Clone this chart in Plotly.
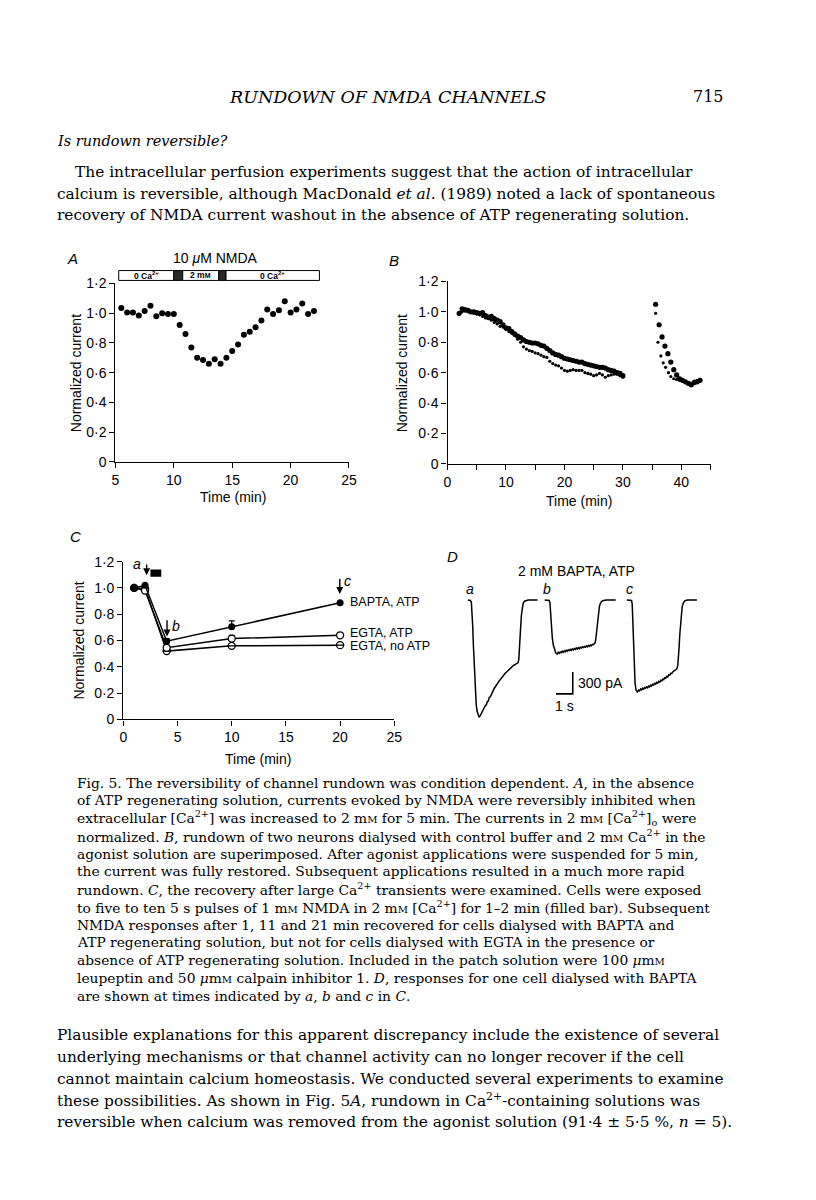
import plotly.graph_objects as go

W, H = 816, 1200
SANS = "Liberation Sans, Arial, sans-serif"
SERIF = "DejaVu Serif, serif"


def fx(p):
    return p / W


def fy(p):
    return 1 - p / H


# ---------------- Panel A data ----------------
A_TIME = [5.5, 6.0, 6.5, 7.0, 7.5, 8.0, 8.5, 9.0, 9.5, 10.0, 10.5, 11.0, 11.5, 12.0,
          12.5, 13.0, 13.5, 14.0, 14.5, 15.0, 15.5, 16.0, 16.5, 17.0, 17.5, 18.0,
          18.5, 19.0, 19.5, 20.0, 20.5, 21.0, 21.5, 22.0]
A_CURRENT = [1.035, 1.005, 1.005, 0.985, 1.015, 1.05, 0.98, 1.00, 0.995, 0.995,
             0.92, 0.86, 0.77, 0.70, 0.685, 0.66, 0.69, 0.66, 0.70, 0.745, 0.79,
             0.855, 0.875, 0.905, 0.95, 1.025, 0.995, 1.02, 1.08, 1.005, 1.025,
             1.065, 0.995, 1.015]
A_BAR_EDGES = [5.28, 10.0, 10.76, 13.85, 14.47, 22.47]
A_BAR_DARK = [False, True, False, True, False]
A_BAR_LABELS = ["0 Ca<sup>2+</sup>", "", "2 m<span style='font-size:7px'>M</span>", "", "0 Ca<sup>2+</sup>"]
Y_TICKS = [0, 0.2, 0.4, 0.6, 0.8, 1.0, 1.2]
Y_TICKTEXT = ["0", "0·2", "0·4", "0·6", "0·8", "1·0", "1·2"]

# ---------------- Panel B data ----------------
B1_TIME = [2.0, 2.5, 3.0, 3.5, 4.0, 4.5, 5.0, 5.5, 6.0, 6.5, 7.0, 7.5, 8.0, 8.5, 9.0,
           9.5, 10.0, 10.5, 11.0, 11.5, 12.0, 12.5, 13.0, 13.5, 14.0, 14.5, 15.0,
           15.5, 16.0, 16.5, 17.0, 17.5, 18.0, 18.5, 19.0, 19.5, 20.0, 20.5, 21.0,
           21.5, 22.0, 22.5, 23.0, 23.5, 24.0, 24.5, 25.0, 25.5, 26.0, 26.5, 27.0,
           27.5, 28.0, 28.5, 29.0, 29.5, 30.0,
           None,
           35.6, 36.2, 36.7, 37.2, 37.7, 38.2, 38.7, 39.2, 39.7, 40.2, 40.7, 41.2,
           41.7, 42.2, 42.7, 43.2]
B1_CURRENT = [0.99, 1.02, 1.015, 1.01, 1.00, 1.00, 0.995, 0.99, 0.995, 0.975, 0.965,
              0.97, 0.955, 0.945, 0.935, 0.915, 0.895, 0.89, 0.87, 0.855, 0.84, 0.83,
              0.815, 0.805, 0.80, 0.795, 0.795, 0.79, 0.78, 0.775, 0.76, 0.745, 0.73,
              0.72, 0.715, 0.705, 0.695, 0.69, 0.685, 0.68, 0.675, 0.67, 0.67, 0.66,
              0.655, 0.65, 0.645, 0.64, 0.635, 0.635, 0.63, 0.62, 0.615, 0.61, 0.60,
              0.595, 0.58,
              None,
              1.05, 0.915, 0.835, 0.775, 0.725, 0.67, 0.62, 0.585, 0.56, 0.55, 0.54,
              0.53, 0.52, 0.535, 0.54, 0.55]
B2_TIME = [2.5, 3.0, 3.5, 4.0, 4.5, 5.0, 5.5, 6.0, 6.5, 7.0, 7.5, 8.0, 8.5, 9.0, 9.5,
           10.0, 10.5, 11.0, 11.5, 12.0, 12.5, 13.0, 13.5, 14.0, 14.5, 15.0, 15.5,
           16.0, 16.5, 17.0, 17.5, 18.0, 18.5, 19.0, 19.5, 20.0, 20.5, 21.0, 21.5,
           22.0, 22.5, 23.0, 23.5, 24.0, 24.5, 25.0, 25.5, 26.0, 26.5, 27.0, 27.5,
           28.0, 28.5, 29.0, 29.5, 30.0,
           None,
           35.6, 36.0, 36.5, 36.9, 37.3, 37.8, 38.2, 38.7, 39.2, 39.7, 40.2, 40.7,
           41.2, 41.7, 42.2, 42.7, 43.2]
B2_CURRENT = [1.00, 1.005, 1.00, 0.995, 0.99, 0.985, 0.98, 0.97, 0.96, 0.955, 0.945,
              0.93, 0.92, 0.905, 0.90, 0.885, 0.87, 0.86, 0.845, 0.82, 0.80, 0.77,
              0.755, 0.745, 0.74, 0.73, 0.725, 0.715, 0.705, 0.70, 0.675, 0.66, 0.65,
              0.645, 0.63, 0.615, 0.61, 0.615, 0.62, 0.615, 0.615, 0.615, 0.60, 0.595,
              0.59, 0.58, 0.585, 0.595, 0.585, 0.57, 0.58, 0.585, 0.59, 0.59, 0.58,
              0.57,
              None,
              0.99, 0.80, 0.71, 0.665, 0.635, 0.60, 0.575, 0.56, 0.555, 0.55, 0.545,
              0.54, 0.53, 0.53, 0.545, 0.55, 0.555]
B_XTICKS = [0, 10, 20, 30, 40]

# ---------------- Panel C data ----------------
C_TIME = [1, 2, 4, 10, 20]
C_BAPTA_ATP = [1.0, 1.02, 0.595, 0.705, 0.887]
C_BAPTA_ATP_ERR = [0.0, 0.0, 0.02, 0.045, 0.0]
C_EGTA_ATP = [1.0, 0.98, 0.545, 0.615, 0.64]
C_EGTA_ATP_ERR = [0.0, 0.0, 0.01, 0.025, 0.0]
C_EGTA_NOATP = [1.0, 0.995, 0.52, 0.56, 0.565]
C_LABELS = ["BAPTA, ATP", "EGTA, ATP", "EGTA, no ATP"]
C_LABEL_Y = [0.89, 0.66, 0.555]

# ---------------- Panel D data (time s, current pA) ----------------
DA_T = [0.00, 0.15, 0.21, 0.25, 0.29, 0.33, 0.37, 0.41, 0.45, 0.50, 0.55, 0.60, 0.65,
        0.69, 0.71, 0.77, 0.83, 0.88, 0.93, 0.98, 1.04, 1.10, 1.16, 1.22, 1.28, 1.34,
        1.40, 1.46, 1.52, 1.58, 1.64, 1.70, 1.76, 1.82, 1.88, 1.94, 2.00, 2.06, 2.12,
        2.18, 2.24, 2.30, 2.36, 2.42, 2.48, 2.54, 2.60, 2.66, 2.72, 2.78, 2.84, 2.90,
        2.96, 3.00, 3.04, 3.08, 3.12, 3.16, 3.20, 3.24, 3.30, 3.38, 3.48, 3.60, 3.80,
        4.16]
DA_I = [0, -5, -30, -150, -360, -620, -870, -1100, -1290, -1440, -1530, -1580, -1600,
        -1615, -1605, -1590, -1560, -1545, -1505, -1495, -1455, -1445, -1400, -1395,
        -1340, -1335, -1295, -1280, -1245, -1215, -1190, -1175, -1155, -1130, -1110,
        -1095, -1075, -1055, -1040, -1025, -1005, -995, -980, -965, -950, -940, -925,
        -915, -900, -895, -880, -875, -868, -860, -820, -700, -520, -340, -200, -110,
        -45, -15, -5, 0, 0, 0]
DB_T = [0.00, 0.27, 0.31, 0.35, 0.40, 0.45, 0.51, 0.58, 0.66, 0.74, 0.80, 0.86, 0.92,
        0.98, 1.04, 1.10, 1.16, 1.22, 1.28, 1.34, 1.40, 1.46, 1.52, 1.58, 1.64, 1.70,
        1.76, 1.82, 1.88, 1.94, 2.00, 2.06, 2.12, 2.18, 2.24, 2.30, 2.36, 2.42, 2.48,
        2.54, 2.60, 2.66, 2.72, 2.78, 2.84, 2.90, 2.96, 3.00, 3.04, 3.08, 3.12, 3.16,
        3.20, 3.26, 3.32, 3.40, 3.50, 3.69, 4.23]
DB_I = [0, -5, -40, -200, -380, -520, -620, -690, -730, -745, -720, -735, -715, -725,
        -705, -720, -700, -712, -690, -705, -685, -698, -680, -692, -672, -688, -668,
        -680, -660, -675, -655, -670, -650, -662, -645, -655, -640, -650, -632, -645,
        -625, -638, -620, -628, -610, -615, -600, -590, -550, -470, -360, -250, -160,
        -90, -45, -18, -5, 0, 0]
DC_T = [0.00, 0.28, 0.32, 0.36, 0.40, 0.44, 0.49, 0.55, 0.62, 0.70, 0.76, 0.82, 0.88,
        0.94, 1.00, 1.06, 1.12, 1.18, 1.24, 1.30, 1.36, 1.42, 1.48, 1.54, 1.60, 1.66,
        1.72, 1.78, 1.84, 1.90, 1.96, 2.02, 2.08, 2.14, 2.20, 2.26, 2.32, 2.38, 2.44,
        2.50, 2.56, 2.62, 2.68, 2.74, 2.80, 2.86, 2.92, 2.98, 3.04, 3.08, 3.12, 3.16,
        3.20, 3.25, 3.30, 3.38, 3.46, 3.60, 4.18]
DC_I = [0, -5, -60, -300, -650, -950, -1150, -1240, -1265, -1240, -1250, -1225, -1238,
        -1215, -1228, -1205, -1215, -1195, -1208, -1185, -1195, -1172, -1185, -1160,
        -1170, -1148, -1158, -1135, -1145, -1120, -1130, -1105, -1115, -1090, -1098,
        -1070, -1078, -1050, -1058, -1030, -1035, -1010, -1012, -990, -985, -970, -960,
        -948, -900, -800, -640, -470, -320, -180, -90, -35, -10, 0, 0]
D_SWEEP_LABELS = ["a", "b", "c"]
SCALE_T = 1.0      # s
SCALE_I = 300.0    # pA

# ---------------- Page text ----------------
CA = "Ca<sup>2+</sup>"
MM = "m<span style='font-size:10px'>M</span>"
HEADER = "<i>RUNDOWN OF NMDA CHANNELS</i>"
PAGE_NO = "715"
SECTION = "<i>Is rundown reversible?</i>"
PARA1 = [
    "The intracellular perfusion experiments suggest that the action of intracellular",
    "calcium is reversible, although MacDonald <i>et al</i>. (1989) noted a lack of spontaneous",
    "recovery of NMDA current washout in the absence of ATP regenerating solution.",
]
CAPTION = [
    "Fig. 5. The reversibility of channel rundown was condition dependent. <i>A</i>, in the absence",
    "of ATP regenerating solution, currents evoked by NMDA were reversibly inhibited when",
    f"extracellular [{CA}] was increased to 2 {MM} for 5 min. The currents in 2 {MM} [{CA}]<sub>o</sub> were",
    f"normalized. <i>B</i>, rundown of two neurons dialysed with control buffer and 2 {MM} {CA} in the",
    "agonist solution are superimposed. After agonist applications were suspended for 5 min,",
    "the current was fully restored. Subsequent applications resulted in a much more rapid",
    f"rundown. <i>C</i>, the recovery after large {CA} transients were examined. Cells were exposed",
    f"to five to ten 5 s pulses of 1 {MM} NMDA in 2 {MM} [{CA}] for 1–2 min (filled bar). Subsequent",
    "NMDA responses after 1, 11 and 21 min recovered for cells dialysed with BAPTA and",
    "ATP regenerating solution, but not for cells dialysed with EGTA in the presence or",
    f"absence of ATP regenerating solution. Included in the patch solution were 100 <i>μ</i>{MM}",
    f"leupeptin and 50 <i>μ</i>{MM} calpain inhibitor 1. <i>D</i>, responses for one cell dialysed with BAPTA",
    "are shown at times indicated by <i>a</i>, <i>b</i> and <i>c</i> in <i>C</i>.",
]
PARA2 = [
    "Plausible explanations for this apparent discrepancy include the existence of several",
    "underlying mechanisms or that channel activity can no longer recover if the cell",
    "cannot maintain calcium homeostasis. We conducted several experiments to examine",
    f"these possibilities. As shown in Fig. 5<i>A</i>, rundown in {CA}-containing solutions was",
    "reversible when calcium was removed from the agonist solution (91·4 ± 5·5 %, <i>n</i> = 5).",
]

# ---------------- Figure ----------------
fig = go.Figure()

# Panel A
fig.add_trace(go.Scatter(x=A_TIME, y=A_CURRENT, mode="markers", xaxis="x", yaxis="y",
                         marker=dict(size=6, color="black"), cliponaxis=False))

# Panel B
fig.add_trace(go.Scatter(x=B2_TIME, y=B2_CURRENT, mode="markers", xaxis="x2", yaxis="y2",
                         marker=dict(size=3.2, color="black"), cliponaxis=False))
fig.add_trace(go.Scatter(x=B1_TIME, y=B1_CURRENT, mode="markers", xaxis="x2", yaxis="y2",
                         marker=dict(size=5.2, color="black"), cliponaxis=False))

# Panel C
ln = dict(color="black", width=1.5)
fig.add_trace(go.Scatter(x=C_TIME, y=C_EGTA_NOATP, mode="lines+markers", xaxis="x3", yaxis="y3",
                         line=ln, cliponaxis=False,
                         marker=dict(size=7, color="white", line=dict(color="black", width=1.3))))
fig.add_trace(go.Scatter(x=C_TIME, y=C_EGTA_NOATP, mode="markers", xaxis="x3", yaxis="y3",
                         cliponaxis=False,
                         marker=dict(size=6, symbol="line-ew", line=dict(color="black", width=1.3))))
fig.add_trace(go.Scatter(x=C_TIME, y=C_EGTA_ATP, mode="lines+markers", xaxis="x3", yaxis="y3",
                         line=ln, cliponaxis=False,
                         error_y=dict(type="data", symmetric=False, array=C_EGTA_ATP_ERR,
                                      arrayminus=[0] * len(C_TIME), color="black", thickness=1.2, width=3),
                         marker=dict(size=7, color="white", line=dict(color="black", width=1.3))))
fig.add_trace(go.Scatter(x=C_TIME, y=C_BAPTA_ATP, mode="lines+markers", xaxis="x3", yaxis="y3",
                         line=ln, cliponaxis=False,
                         error_y=dict(type="data", symmetric=False, array=C_BAPTA_ATP_ERR,
                                      arrayminus=[0] * len(C_TIME), color="black", thickness=1.2, width=3),
                         marker=dict(size=7, color="black")))

# Panel D sweeps (offset in time so they sit side by side)
D_OFFSETS = [0.45, 5.04, 9.94]
for off, ts, cur in zip(D_OFFSETS, [DA_T, DB_T, DC_T], [DA_I, DB_I, DC_I]):
    fig.add_trace(go.Scatter(x=[t + off for t in ts], y=cur, mode="lines", xaxis="x4", yaxis="y4",
                             line=dict(color="black", width=1.5), cliponaxis=False))
# scale bar
sb_t0, sb_i0 = 5.71, -1292
fig.add_trace(go.Scatter(x=[sb_t0, sb_t0 + SCALE_T, sb_t0 + SCALE_T],
                         y=[sb_i0, sb_i0, sb_i0 + SCALE_I], mode="lines", xaxis="x4", yaxis="y4",
                         line=dict(color="black", width=1.6), cliponaxis=False))

axis_common = dict(showline=True, linecolor="black", linewidth=1.3, ticks="outside",
                   ticklen=5, tickwidth=1.3, tickcolor="black", showgrid=False, zeroline=False,
                   tickfont=dict(family=SANS, size=14, color="black"), fixedrange=True)

fig.update_layout(
    width=W, height=H, margin=dict(l=0, r=0, t=0, b=0),
    paper_bgcolor="white", plot_bgcolor="rgba(0,0,0,0)", showlegend=False,
    font=dict(family=SANS, color="black"),
    xaxis=dict(domain=[fx(105), fx(342)], range=[5, 25], anchor="y",
               tickvals=[5, 10, 15, 20, 25], **axis_common),
    yaxis=dict(domain=[fy(452), fy(271)], range=[0, 1.2], anchor="x",
               tickvals=Y_TICKS, ticktext=Y_TICKTEXT, **axis_common),
    xaxis2=dict(domain=[fx(442), fx(709)], range=[0, 45], anchor="y2",
                tickvals=B_XTICKS,
                minor=dict(tickvals=[5, 15, 25, 35, 45], ticks="outside", ticklen=5,
                           tickwidth=1.3, tickcolor="black", showgrid=False),
                **axis_common),
    yaxis2=dict(domain=[fy(454), fy(269)], range=[0, 1.2], anchor="x2",
                tickvals=Y_TICKS, ticktext=Y_TICKTEXT, **axis_common),
    xaxis3=dict(domain=[fx(113), fx(388)], range=[0, 25], anchor="y3",
                tickvals=[0, 5, 10, 15, 20, 25], **axis_common),
    yaxis3=dict(domain=[fy(713), fy(553)], range=[0, 1.2], anchor="x3",
                tickvals=Y_TICKS, ticktext=Y_TICKTEXT, **axis_common),
    xaxis4=dict(domain=[fx(455), fx(705)], range=[0, 14.7], anchor="y4", visible=False),
    yaxis4=dict(domain=[fy(715), fy(585)], range=[-1673, 95], anchor="x4", visible=False),
)

shapes = []
# Panel A solution bar
for i in range(len(A_BAR_DARK)):
    shapes.append(dict(type="rect", xref="x", yref="paper",
                       x0=A_BAR_EDGES[i], x1=A_BAR_EDGES[i + 1], y0=fy(268), y1=fy(258),
                       fillcolor="#2a2a2a" if A_BAR_DARK[i] else "white",
                       line=dict(color="black", width=1)))
# Panel C filled bar (Ca2+ pulses)
shapes.append(dict(type="rect", xref="x3", yref="y3", x0=2.5, x1=3.5, y0=1.085, y1=1.14,
                   fillcolor="black", line=dict(color="black", width=0)))
fig.update_layout(shapes=shapes)

ann = []


def txt(x, y, s, size, family=SERIF, xanchor="left", **kw):
    return dict(x=fx(x), y=fy(y), xref="paper", yref="paper", text=s, showarrow=False,
                xanchor=xanchor, yanchor="middle",
                font=dict(size=size, family=family, color="black"), **kw)


# Panel A bar labels
for i, lab in enumerate(A_BAR_LABELS):
    if lab:
        ann.append(dict(x=(A_BAR_EDGES[i] + A_BAR_EDGES[i + 1]) / 2, y=fy(263), xref="x", yref="paper",
                        text=f"<b>{lab}</b>", showarrow=False, xanchor="center", yanchor="middle",
                        font=dict(size=8.5, family=SANS, color="black")))

# Panel letters and titles
ann.append(txt(61, 246, "<i>A</i>", 15, SANS, "center"))
ann.append(txt(388, 248, "<i>B</i>", 15, SANS, "center"))
ann.append(txt(64, 528, "<i>C</i>", 15, SANS, "center"))
ann.append(txt(447, 548, "<i>D</i>", 15, SANS, "center"))
ann.append(txt(207, 245, "10 <i>μ</i>M NMDA", 14, SANS, "center"))

# axis titles
for xc, yc in [(65, 362), (396, 362), (68, 633)]:
    ann.append(dict(x=fx(xc), y=fy(yc), xref="paper", yref="paper", text="Normalized current",
                    showarrow=False, textangle=-90, xanchor="center", yanchor="middle",
                    font=dict(size=14, family=SANS, color="black")))
for xc, yc in [(224, 488), (575, 492), (250, 753)]:
    ann.append(txt(xc, yc, "Time (min)", 14, SANS, "center"))

# Panel C arrows and labels
for (xh, yh, yt) in [(2.15, 1.097, 1.19), (4.03, 0.63, 0.765), (19.97, 0.953, 1.08)]:
    ann.append(dict(x=xh, y=yh, ax=xh, ay=yt, xref="x3", yref="y3", axref="x3", ayref="y3",
                    text="", showarrow=True, arrowhead=2, arrowsize=1, arrowwidth=1.4,
                    arrowcolor="black"))
for (xl, yl, s) in [(1.25, 1.185, "a"), (4.9, 0.71, "b"), (20.7, 1.05, "c")]:
    ann.append(dict(x=xl, y=yl, xref="x3", yref="y3", text=f"<i>{s}</i>", showarrow=False,
                    xanchor="center", yanchor="middle", font=dict(size=14, family=SANS)))
for lab, yl in zip(C_LABELS, C_LABEL_Y):
    ann.append(dict(x=20.7, y=yl, xref="x3", yref="y3", text=lab, showarrow=False,
                    xanchor="left", yanchor="middle", font=dict(size=12.5, family=SANS)))

# Panel D labels
ann.append(txt(573, 562, "2 mM BAPTA, ATP", 14, SANS, "center"))
for off, lab in zip(D_OFFSETS, D_SWEEP_LABELS):
    ann.append(dict(x=off + 0.15, y=fy(581), xref="x4", yref="paper", text=f"<i>{lab}</i>",
                    showarrow=False, xanchor="center", yanchor="middle",
                    font=dict(size=14, family=SANS)))
ann.append(dict(x=sb_t0 + SCALE_T, y=sb_i0 + SCALE_I / 2, xref="x4", yref="y4",
                text=f"{int(SCALE_I)} pA", showarrow=False, xanchor="left", yanchor="middle",
                xshift=3, font=dict(size=14, family=SANS)))
ann.append(dict(x=sb_t0 + SCALE_T / 2, y=sb_i0, xref="x4", yref="y4",
                text=f"{int(SCALE_T)} s", showarrow=False, xanchor="center", yanchor="top",
                yshift=-2, font=dict(size=14, family=SANS)))

# Page text
ann.append(txt(381, 82, HEADER, 17.5, SERIF, "center"))
ann.append(txt(725, 82, PAGE_NO, 16, SERIF, "right"))
ann.append(txt(44, 127, SECTION, 14.5, SERIF))
for i, line in enumerate(PARA1):
    ann.append(txt(62 if i == 0 else 44, 158 + 22 * i, line, 15.4, SERIF))
for i, line in enumerate(CAPTION):
    ann.append(txt(64, 777 + 18 * i, line, 13.8, SERIF))
for i, line in enumerate(PARA2):
    ann.append(txt(44, 1033 + 22 * i, line, 15.4, SERIF))

fig.update_layout(annotations=ann)

fig.write_html("out.html")
